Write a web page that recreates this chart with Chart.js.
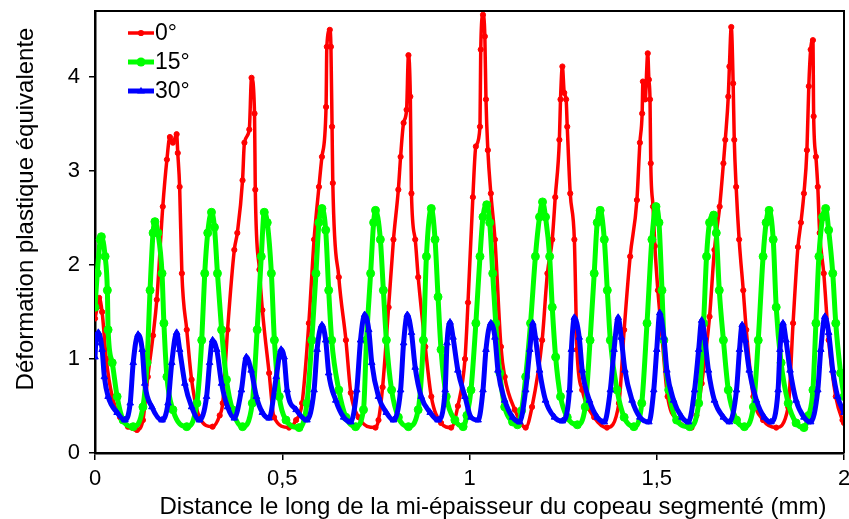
<!DOCTYPE html>
<html><head><meta charset="utf-8">
<script src="https://cdn.jsdelivr.net/npm/chart.js@4.4.1/dist/chart.umd.min.js"></script>
<style>html,body{margin:0;padding:0;background:#fff;}#wrap{width:849px;height:519px;position:relative;}</style>
</head><body><div id="wrap"><canvas id="c"></canvas></div>
<script>
const seriesNames = ['0°', '15°', '30°'];
const xTickValues = [0, 0.5, 1, 1.5, 2];
const xTickLabels = ['0', '0,5', '1', '1,5', '2'];
const yTickValues = [0, 1, 2, 3, 4];
const yTickLabels = ['0', '1', '2', '3', '4'];
const xAxisTitle = 'Distance le long de la mi-épaisseur du copeau segmenté (mm)';
const yAxisTitle = 'Déformation plastique équivalente';

const redX = [0,0.006,0.011,0.019,0.030,0.046,0.067,0.088,0.112,0.128,
0.141,0.155,0.165,0.181,0.192,0.200,0.208,0.218,0.221,0.226,
0.232,0.245,0.258,0.279,0.314,0.333,0.341,0.354,0.372,0.380,
0.394,0.399,0.412,0.418,0.426,0.428,0.439,0.447,0.465,0.478,
0.518,0.537,0.553,0.571,0.585,0.598,0.606,0.617,0.619,0.627,
0.630,0.633,0.635,0.651,0.670,0.683,0.704,0.749,0.757,0.768,
0.784,0.797,0.810,0.816,0.824,0.832,0.837,0.842,0.845,0.855,
0.863,0.882,0.898,0.924,0.951,0.969,0.988,0.996,1.009,1.017,
1.028,1.030,1.036,1.041,1.044,1.049,1.057,1.068,1.084,1.094,
1.121,1.150,1.167,1.194,1.208,1.221,1.229,1.240,1.243,1.248,
1.253,1.258,1.261,1.269,1.280,1.287,1.301,1.333,1.367,1.399,
1.413,1.429,1.447,1.455,1.461,1.463,1.469,1.476,1.479,1.482,
1.484,1.490,1.495,1.503,1.513,1.529,1.556,1.593,1.606,1.620,
1.641,1.654,1.668,1.678,1.683,1.691,1.694,1.699,1.704,1.707,
1.712,1.720,1.731,1.739,1.758,1.784,1.819,1.851,1.864,1.877,
1.885,1.893,1.901,1.906,1.911,1.917,1.919,1.925,1.930,1.935,
1.946,1.959,1.978,1.996,2.0];
const redY = [1.43,1.55,1.65,1.5,1.0,0.6,0.38,0.28,0.245,0.35,
0.81,1.25,1.63,2.62,3.12,3.36,3.3,3.39,3.19,2.83,
1.91,1.31,0.78,0.38,0.28,0.4,0.53,1.31,2.16,2.34,
2.9,3.3,3.44,3.99,3.61,2.8,1.95,1.52,0.85,0.38,
0.27,0.35,0.53,1.38,2.27,2.83,3.15,3.68,4.32,4.5,
4.32,3.47,2.87,1.87,1.2,0.64,0.38,0.27,0.35,0.7,
1.55,2.27,2.8,3.15,3.51,3.65,4.23,3.79,2.76,2.27,
1.87,1.13,0.6,0.32,0.27,0.5,1.0,1.6,2.72,3.26,
3.47,4.29,4.66,4.43,3.76,3.22,2.76,2.27,1.13,0.81,
0.46,0.27,0.49,1.2,1.91,2.27,2.72,3.33,3.76,4.11,
3.83,3.76,3.47,2.76,2.27,1.1,0.67,0.38,0.27,0.53,
1.31,2.09,2.69,3.3,3.61,3.95,3.76,4.25,3.97,3.76,
3.08,2.62,2.2,1.73,1.28,0.6,0.35,0.27,0.4,0.74,
1.45,2.16,2.62,3.08,3.33,3.79,4.11,4.53,3.93,3.33,
2.83,2.27,1.73,1.31,0.6,0.35,0.27,0.49,1.38,2.19,
2.45,2.76,3.22,3.9,4.29,4.39,3.58,3.15,2.83,2.34,
1.91,1.2,0.6,0.35,0.32];

const greenX = [0,0.006,0.014,0.017,0.027,0.033,0.035,0.046,0.059,0.075,
0.102,0.128,0.139,0.147,0.155,0.160,0.168,0.179,0.184,0.192,
0.208,0.245,0.272,0.285,0.293,0.301,0.311,0.319,0.327,0.338,
0.351,0.367,0.394,0.420,0.433,0.444,0.452,0.460,0.471,0.479,
0.492,0.510,0.545,0.566,0.579,0.590,0.598,0.606,0.616,0.624,
0.632,0.651,0.670,0.696,0.717,0.725,0.736,0.744,0.749,0.762,
0.770,0.778,0.792,0.810,0.837,0.863,0.877,0.885,0.898,0.908,
0.916,0.924,0.938,0.961,0.983,0.993,1.004,1.017,1.028,1.036,
1.046,1.054,1.062,1.070,1.081,1.094,1.115,1.128,1.139,1.150,
1.163,1.176,1.187,1.195,1.203,1.214,1.221,1.230,1.243,1.261,
1.288,1.309,1.322,1.333,1.341,1.349,1.360,1.368,1.376,1.394,
1.413,1.439,1.460,1.474,1.487,1.498,1.506,1.514,1.519,1.532,
1.553,1.588,1.612,1.625,1.633,1.641,1.652,1.659,1.667,1.678,
1.691,1.713,1.734,1.758,1.771,1.784,1.792,1.800,1.811,1.819,
1.832,1.851,1.872,1.893,1.906,1.917,1.925,1.933,1.943,1.951,
1.959,1.970,1.978,1.991,2.0];
const greenY = [1.55,1.91,2.27,2.3,2.09,1.73,1.31,0.96,0.6,0.35,
0.28,0.49,0.96,1.73,2.34,2.46,2.34,1.91,1.38,0.81,
0.46,0.28,0.53,1.2,1.91,2.34,2.56,2.4,1.91,1.31,
0.78,0.46,0.28,0.53,1.31,2.09,2.56,2.45,1.91,1.2,
0.6,0.35,0.27,0.53,1.2,1.91,2.45,2.6,2.37,1.73,
1.2,0.67,0.38,0.28,0.46,1.2,1.91,2.45,2.58,2.27,
1.73,1.2,0.67,0.38,0.28,0.46,1.2,2.09,2.6,2.27,
1.66,1.1,0.6,0.35,0.28,0.4,0.67,1.38,2.09,2.51,
2.64,2.45,1.91,1.38,0.85,0.49,0.33,0.3,0.45,0.81,
1.38,2.09,2.51,2.67,2.51,2.09,1.55,1.02,0.6,0.38,
0.3,0.49,1.2,1.91,2.45,2.58,2.27,1.73,1.2,0.67,
0.38,0.28,0.53,1.38,2.27,2.62,2.45,1.73,1.2,0.67,
0.35,0.28,0.53,1.38,2.09,2.45,2.53,2.34,1.73,1.2,
0.67,0.35,0.28,0.49,1.2,2.09,2.45,2.58,2.27,1.55,
0.96,0.53,0.32,0.27,0.4,0.67,1.38,2.09,2.51,2.6,
2.37,1.91,1.38,0.85,0.6];

const blueX = [0,0.002,0.009,0.019,0.025,0.035,0.059,0.080,0.094,0.102,
0.115,0.126,0.133,0.152,0.179,0.195,0.205,0.218,0.226,0.240,
0.258,0.279,0.298,0.306,0.314,0.325,0.338,0.354,0.372,0.391,
0.404,0.417,0.431,0.447,0.465,0.484,0.497,0.505,0.513,0.537,
0.566,0.585,0.593,0.606,0.616,0.624,0.643,0.664,0.683,0.699,
0.709,0.720,0.731,0.739,0.757,0.778,0.797,0.816,0.824,0.834,
0.845,0.855,0.871,0.895,0.916,0.935,0.940,0.948,0.956,0.969,
0.988,1.004,1.023,1.036,1.044,1.057,1.068,1.076,1.094,1.115,
1.134,1.150,1.161,1.169,1.176,1.187,1.203,1.227,1.248,1.267,
1.272,1.280,1.293,1.301,1.320,1.341,1.360,1.376,1.386,1.397,
1.405,1.415,1.434,1.455,1.479,1.492,1.500,1.508,1.519,1.527,
1.545,1.567,1.585,1.601,1.612,1.620,1.628,1.638,1.654,1.678,
1.694,1.713,1.721,1.728,1.736,1.747,1.766,1.787,1.805,1.824,
1.829,1.837,1.845,1.856,1.872,1.893,1.911,1.930,1.938,1.949,
1.959,1.970,1.983,2.0];
const blueY = [1.02,1.17,1.28,1.1,0.81,0.6,0.43,0.35,0.53,0.96,
1.26,1.1,0.74,0.49,0.35,0.53,0.96,1.28,1.1,0.74,
0.49,0.35,0.6,0.96,1.2,1.1,0.74,0.49,0.37,0.67,
1.02,0.88,0.6,0.43,0.37,0.81,1.1,1.02,0.67,0.46,
0.35,0.67,1.1,1.36,1.2,0.85,0.56,0.38,0.33,0.67,
1.2,1.47,1.31,0.96,0.6,0.43,0.35,0.67,1.17,1.47,
1.28,0.91,0.6,0.43,0.35,0.67,1.17,1.39,1.23,0.88,
0.6,0.38,0.35,0.67,1.1,1.38,1.23,0.88,0.56,0.38,
0.33,0.67,1.1,1.38,1.23,0.88,0.56,0.38,0.34,0.67,
1.1,1.44,1.23,0.88,0.56,0.38,0.33,0.67,1.1,1.44,
1.23,0.88,0.56,0.38,0.33,0.67,1.1,1.49,1.23,0.88,
0.56,0.38,0.33,0.67,1.1,1.41,1.23,0.88,0.56,0.38,
0.33,0.67,1.1,1.36,1.2,0.88,0.56,0.38,0.33,0.67,
1.1,1.38,1.2,0.88,0.56,0.38,0.33,0.67,1.1,1.45,
1.28,0.88,0.6,0.43];

const toPoints = (xs, ys) => xs.map((x, i) => ({ x: x, y: ys[i] }));
const FONT = "'Liberation Sans', Arial, sans-serif";
const colors = ['#FF0000', '#00FF00', '#0000FF'];
const styles = [
  { pointStyle: 'circle', radius: 2.6, lineWidth: 3.5 },
  { pointStyle: 'circle', radius: 4, lineWidth: 5 },
  { pointStyle: 'triangle', radius: 3.8, lineWidth: 5 }
];

const framePlugin = {
  id: 'frame',
  afterDraw(chart) {
    const { ctx, chartArea: a } = chart;
    ctx.save();
    ctx.strokeStyle = '#000';
    ctx.lineWidth = 2;
    ctx.beginPath();
    ctx.moveTo(a.left, a.top);
    ctx.lineTo(a.right, a.top);
    ctx.lineTo(a.right, a.bottom);
    ctx.stroke();
    ctx.restore();
  }
};

const titlesPlugin = {
  id: 'titles',
  afterDraw(chart) {
    const ctx = chart.ctx;
    ctx.save();
    ctx.fillStyle = '#000';
    ctx.font = '24px ' + FONT;
    ctx.textAlign = 'center';
    ctx.textBaseline = 'middle';
    ctx.fillText(xAxisTitle, 493, 507);
    ctx.translate(26, 209);
    ctx.rotate(-Math.PI / 2);
    ctx.fillText(yAxisTitle, 0, 0);
    ctx.restore();
  }
};

function drawMarker(ctx, style, x, y, color) {
  ctx.fillStyle = color;
  ctx.beginPath();
  if (style.pointStyle === 'triangle') {
    const r = style.radius + 0.5;
    ctx.moveTo(x, y - r);
    ctx.lineTo(x + r * 0.9, y + r * 0.6);
    ctx.lineTo(x - r * 0.9, y + r * 0.6);
    ctx.closePath();
  } else {
    ctx.arc(x, y, style.radius + 0.5, 0, Math.PI * 2);
  }
  ctx.fill();
}

const legendPlugin = {
  id: 'innerLegend',
  afterDraw(chart) {
    const ctx = chart.ctx;
    const rows = [33, 62, 91];
    ctx.save();
    seriesNames.forEach((name, i) => {
      const y = rows[i];
      ctx.strokeStyle = colors[i];
      ctx.lineWidth = styles[i].lineWidth;
      ctx.beginPath();
      ctx.moveTo(128, y);
      ctx.lineTo(154, y);
      ctx.stroke();
      drawMarker(ctx, styles[i], 141, y, colors[i]);
      ctx.fillStyle = '#000';
      ctx.font = '23px ' + FONT;
      ctx.textAlign = 'left';
      ctx.textBaseline = 'middle';
      ctx.fillText(name, 155, y + 1);
    });
    ctx.restore();
  }
};

const datasets = [
  { label: seriesNames[0], data: toPoints(redX, redY), order: 3 },
  { label: seriesNames[1], data: toPoints(greenX, greenY), order: 2 },
  { label: seriesNames[2], data: toPoints(blueX, blueY), order: 1 }
].map((d, i) => Object.assign(d, {
  borderColor: colors[i],
  backgroundColor: colors[i],
  borderWidth: styles[i].lineWidth,
  pointStyle: styles[i].pointStyle,
  pointRadius: styles[i].radius,
  pointBorderWidth: 1,
  pointBorderColor: colors[i],
  pointBackgroundColor: colors[i],
  cubicInterpolationMode: 'monotone',
  fill: false
}));

new Chart(document.getElementById('c'), {
  type: 'line',
  data: { datasets },
  options: {
    responsive: true,
    maintainAspectRatio: false,
    animation: false,
    devicePixelRatio: 1,
    layout: { padding: { top: 11, right: 1, left: 0, bottom: 0 } },
    plugins: { legend: { display: false }, tooltip: { enabled: false } },
    scales: {
      x: {
        type: 'linear', min: 0, max: 2,
        afterBuildTicks: (s) => { s.ticks = xTickValues.map(v => ({ value: v })); },
        ticks: {
          autoSkip: false, maxRotation: 0, padding: 6, color: '#000',
          font: { family: FONT, size: 22 },
          callback: (v) => { const i = xTickValues.findIndex(t => Math.abs(t - v) < 1e-9); return i >= 0 ? xTickLabels[i] : ''; }
        },
        grid: { drawOnChartArea: false, drawTicks: true, tickLength: 7, color: '#000', lineWidth: 1.5 },
        border: { display: true, color: '#000', width: 2.5 },
        afterFit: (s) => { s.height = 66; s.paddingLeft = 0; s.paddingRight = 0; }
      },
      y: {
        type: 'linear', min: 0, max: 4.7,
        afterBuildTicks: (s) => { s.ticks = yTickValues.map(v => ({ value: v })); },
        ticks: {
          padding: 9, color: '#000',
          font: { family: FONT, size: 22 },
          callback: (v) => { const i = yTickValues.findIndex(t => Math.abs(t - v) < 1e-9); return i >= 0 ? yTickLabels[i] : ''; }
        },
        grid: { drawOnChartArea: false, drawTicks: true, tickLength: 6, color: '#000', lineWidth: 1.5 },
        border: { display: true, color: '#000', width: 2.5 },
        afterFit: (s) => { s.width = 95; s.paddingTop = 0; s.paddingBottom = 0; }
      }
    }
  },
  plugins: [framePlugin, titlesPlugin, legendPlugin]
});
</script>
</body></html>
